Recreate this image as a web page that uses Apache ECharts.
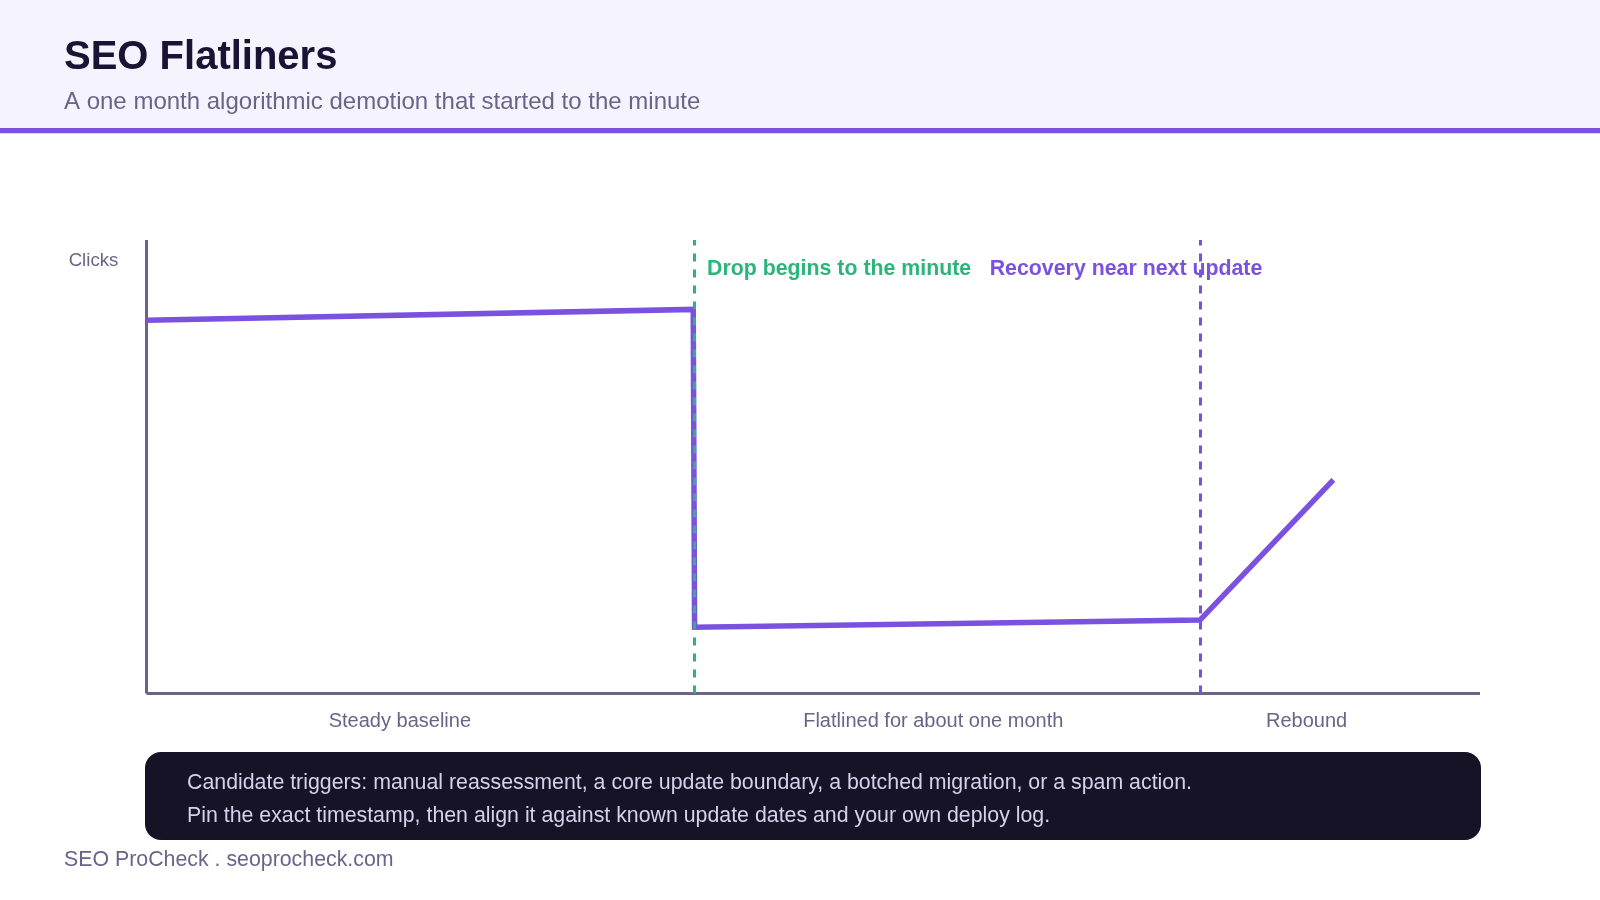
<!DOCTYPE html>
<html>
<head>
<meta charset="utf-8">
<style>html,body{margin:0;padding:0;background:#fff}#c{width:1600px;height:900px}</style>
<script src="https://cdn.jsdelivr.net/npm/echarts@6/dist/echarts.min.js"></script>
</head>
<body>
<div id="c"></div>
<script>
const xValues = [0, 41, 41.1, 79, 89];
const clicks = [82.3, 84.7, 14.6, 16.2, 47.1];
const phaseTicks = [19, 59, 87];
const phaseLabels = ['Steady baseline', 'Flatlined for about one month', 'Rebound'];
const dropAt = 41.1;
const recoveryAt = 79;
const titleText = 'SEO Flatliners';
const subtitleText = 'A one month algorithmic demotion that started to the minute';
const yAxisLabel = 'Clicks';
const dropLabel = 'Drop begins to the minute';
const recoveryLabel = 'Recovery near next update';
const noteLines = [
  'Candidate triggers: manual reassessment, a core update boundary, a botched migration, or a spam action.',
  'Pin the exact timestamp, then align it against known update dates and your own deploy log.'
];
const footerText = 'SEO ProCheck . seoprocheck.com';

const FONT = '"Liberation Sans", Arial, sans-serif';
const PURPLE = '#7b52e0', GREEN = '#2bb57a', GREY = '#6b6488', INK = '#1a1333', PANEL = '#161326', NOTE = '#d6d0ea';

const txt = (x, y, text, size, fill, weight, align) => ({
  type: 'text', x, y, z: 20,
  style: { text, fontFamily: FONT, fontSize: size, fontWeight: weight || 'normal', fill, textAlign: align || 'left', textVerticalAlign: 'middle' }
});

const chart = echarts.init(document.getElementById('c'), null, { renderer: 'canvas', width: 1600, height: 900 });
chart.setOption({
  animation: false,
  backgroundColor: '#ffffff',
  grid: { left: 146.5, right: 120, top: 240, bottom: 206.5, containLabel: false },
  xAxis: {
    type: 'value', min: 0, max: 100,
    axisLine: { show: true, onZero: false, lineStyle: { color: GREY, width: 3, cap: 'butt' } },
    axisTick: { show: false },
    splitLine: { show: false },
    axisLabel: {
      show: true, customValues: phaseTicks, margin: 18, hideOverlap: false,
      color: GREY, fontFamily: FONT, fontSize: 20,
      formatter: v => phaseLabels[phaseTicks.indexOf(v)]
    }
  },
  yAxis: {
    type: 'value', min: 0, max: 100,
    axisLine: { show: true, onZero: false, lineStyle: { color: GREY, width: 3, cap: 'butt' } },
    axisTick: { show: false },
    axisLabel: { show: false },
    splitLine: { show: false }
  },
  series: [{
    type: 'line',
    data: xValues.map((x, i) => [x, clicks[i]]),
    showSymbol: false, symbol: 'none', clip: false, smooth: false,
    lineStyle: { color: PURPLE, width: 5.5, join: 'miter', cap: 'butt' },
    markLine: {
      silent: true, symbol: 'none', animation: false, label: { show: false },
      data: [
        { xAxis: dropAt, lineStyle: { color: GREEN, width: 3, type: [8, 8] } },
        { xAxis: recoveryAt, lineStyle: { color: PURPLE, width: 3, type: [8, 8] } }
      ]
    }
  }],
  graphic: [
    { type: 'rect', z: 1, shape: { x: 0, y: 0, width: 1600, height: 128 }, style: { fill: '#f5f3fe' } },
    { type: 'rect', z: 2, shape: { x: 0, y: 128, width: 1600, height: 5.3 }, style: { fill: PURPLE } },
    txt(64, 58, titleText, 40, INK, 'bold'),
    txt(64, 102, subtitleText, 24, GREY),
    txt(93.5, 261, yAxisLabel, 18.67, GREY, 'normal', 'center'),
    txt(707, 269, dropLabel, 21.33, GREEN, 'bold'),
    txt(989.7, 269, recoveryLabel, 21.33, PURPLE, 'bold'),
    { type: 'rect', z: 3, shape: { x: 145, y: 752, width: 1336, height: 88, r: 16 }, style: { fill: PANEL } },
    txt(187, 783.5, noteLines[0], 21.33, NOTE),
    txt(187, 816, noteLines[1], 21.33, NOTE),
    txt(64, 860.5, footerText, 21.33, GREY)
  ]
});
</script>
</body>
</html>
